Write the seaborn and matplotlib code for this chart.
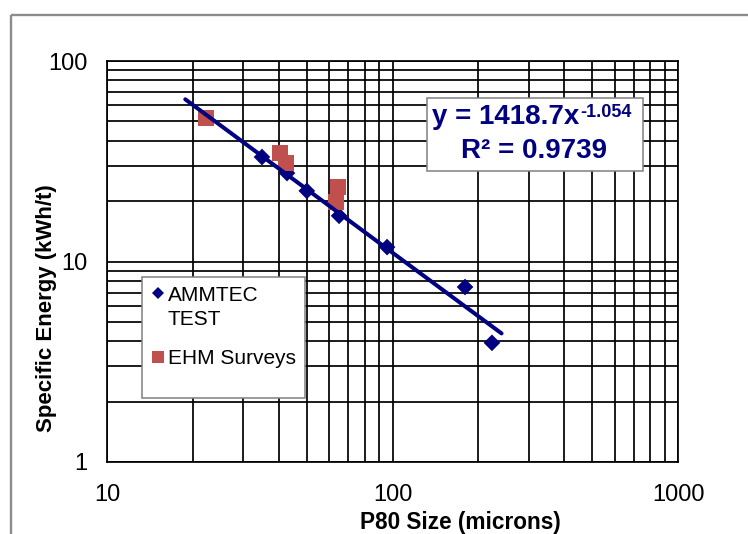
import matplotlib
matplotlib.use("Agg")
import matplotlib.pyplot as plt
import matplotlib.transforms as mtransforms
from matplotlib.patches import Rectangle
from matplotlib.lines import Line2D
from matplotlib.ticker import FixedLocator, FixedFormatter, LogLocator, NullFormatter
from matplotlib import font_manager
import numpy as np
import pandas as pd
import seaborn as sns

# ---------------- data ----------------
ammtec_size = [34.9, 42.7, 50.1, 65.0, 95.7, 179.5, 223.0]
ammtec_energy = [33.2, 27.6, 22.5, 16.9, 11.8, 7.46, 3.93]
ehm_size = [22.2, 40.4, 42.4, 64.4, 63.4]
ehm_energy = [52.0, 34.8, 31.0, 23.6, 19.8]
series_names = ["AMMTEC TEST", "EHM Surveys"]
legend_labels = ["AMMTEC", "EHM Surveys"]
legend_second_line = "TEST"

fit_a = 1418.7
fit_b = -1.054
fit_r2 = 0.9739
trend_range = [18.8, 241.0]

x_ticks = [10, 100, 1000]
x_tick_labels = ["10", "100", "1000"]
y_ticks = [1, 10, 100]
y_tick_labels = ["1", "10", "100"]
x_label = "P80 Size (microns)"
y_label = "Specific Energy (kWh/t)"

navy = "#000080"
red = "#C0504D"

# ---------------- style ----------------
sns.set_theme(style="white")
plt.rcParams["font.family"] = ["Liberation Sans", "DejaVu Sans"]


def has_font(name):
    try:
        font_manager.findfont(font_manager.FontProperties(family=name),
                              fallback_to_default=False)
        return True
    except Exception:
        return False


narrow = has_font("Liberation Sans Narrow")

W, H = 748, 534
fig = plt.figure(figsize=(W / 100, H / 100), dpi=100)
fig.patch.set_facecolor("white")
# pixel transform (origin top-left)
PX = mtransforms.Affine2D().scale(1, -1).translate(0, H)

ax_l, ax_r, ax_t, ax_b = 107, 678, 61, 462
ax = fig.add_axes([ax_l / W, 1 - ax_b / H, (ax_r - ax_l) / W, (ax_b - ax_t) / H])
ax.set_facecolor("white")

df = pd.concat([
    pd.DataFrame({"size": ammtec_size, "energy": ammtec_energy, "series": series_names[0]}),
    pd.DataFrame({"size": ehm_size, "energy": ehm_energy, "series": series_names[1]}),
], ignore_index=True)

sns.scatterplot(data=df, x="size", y="energy", hue="series", style="series", size="series",
                palette={series_names[0]: navy, series_names[1]: red},
                markers={series_names[0]: "D", series_names[1]: "s"},
                sizes={series_names[0]: 72, series_names[1]: 130},
                linewidth=0, legend=False, ax=ax, zorder=3)

tx = np.array(trend_range)
ty = fit_a * tx ** fit_b
sns.lineplot(x=tx, y=ty, color=navy, linewidth=2.9, ax=ax, zorder=4)

ax.set_xscale("log")
ax.set_yscale("log")
ax.set_xlim(10, 1000)
ax.set_ylim(1, 100)

ax.xaxis.set_major_locator(FixedLocator(x_ticks))
ax.xaxis.set_major_formatter(FixedFormatter(x_tick_labels))
ax.yaxis.set_major_locator(FixedLocator(y_ticks))
ax.yaxis.set_major_formatter(FixedFormatter(y_tick_labels))
for axis in (ax.xaxis, ax.yaxis):
    axis.set_minor_locator(LogLocator(base=10, subs=np.arange(2, 10)))
    axis.set_minor_formatter(NullFormatter())

ax.grid(True, which="both", color="black", linewidth=1.25)
ax.set_axisbelow(True)
for s in ax.spines.values():
    s.set_visible(True)
    s.set_color("black")
    s.set_linewidth(1.25)

ax.tick_params(which="major", direction="out", length=5, width=1.25, color="black",
               labelsize=17, labelcolor="black")
ax.tick_params(axis="x", which="major", pad=11)
ax.tick_params(axis="y", which="major", pad=9)
ax.tick_params(which="minor", length=0)

ax.set_xlabel(x_label, fontsize=17 if narrow else 16.3, fontweight="bold", color="black",
              family=["Liberation Sans Narrow", "Liberation Sans", "DejaVu Sans"] if narrow
              else ["Liberation Sans", "DejaVu Sans"])
ax.xaxis.set_label_coords((460.5 - ax_l) / (ax_r - ax_l), (ax_b - 522) / (ax_b - ax_t))
ax.xaxis.label.set_va("center")

ax.set_ylabel(y_label, fontsize=16, fontweight="bold", color="black")
ax.yaxis.set_label_coords((47 - ax_l) / (ax_r - ax_l), (ax_b - 308) / (ax_b - ax_t))
ax.yaxis.label.set_va("center")

# ---------------- legend ----------------
leg_box = Rectangle((142, 277), 163, 121, transform=PX, facecolor="white",
                    edgecolor="#808080", linewidth=1.1, zorder=4, clip_on=False)
ax.add_patch(leg_box)
handles = [Line2D([], [], marker="D", color=navy, linestyle="none", markersize=6.2,
                  markeredgewidth=0),
           Line2D([], [], marker="s", color=red, linestyle="none", markersize=8.6,
                  markeredgewidth=0)]
leg = ax.legend(handles, legend_labels, loc="center left", bbox_to_anchor=(150, 327),
                bbox_transform=PX, frameon=False, fontsize=15, handlelength=0.78,
                handletextpad=0.08, borderpad=0, borderaxespad=0, labelspacing=2.15)
leg.set_zorder(5)
for t in leg.get_texts():
    t.set_color("black")
ax.annotate(legend_second_line, xy=(0, 0), xycoords=leg.get_texts()[0],
            xytext=(0, -24), textcoords="offset pixels", ha="left", va="bottom",
            fontsize=15, color="black", zorder=6, annotation_clip=False)

# ---------------- equation box ----------------
eq_box = Rectangle((427, 98), 216, 73, transform=PX, facecolor="white",
                   edgecolor="#808080", linewidth=1.1, zorder=4, clip_on=False)
ax.add_patch(eq_box)
t1 = ax.text(432, 124, f"y = {fit_a}x", transform=PX, ha="left", va="baseline",
             fontsize=20, fontweight="bold", color=navy, zorder=6)
ax.annotate(f"{fit_b}", xy=(1, 0), xycoords=t1, xytext=(1, 13), textcoords="offset pixels",
            ha="left", va="baseline", fontsize=13, fontweight="bold", color=navy, zorder=6,
            annotation_clip=False)
ax.text(534, 158, f"R\u00b2 = {fit_r2}", transform=PX, ha="center", va="baseline",
        fontsize=20, fontweight="bold", color=navy, zorder=6)

# ---------------- outer grey frame ----------------
frame = Rectangle((11, 15), 900, 700, transform=PX, facecolor="none",
                  edgecolor="#8c8c8c", linewidth=1.7)
fig.add_artist(frame)

fig.savefig("out.png", dpi=100)
